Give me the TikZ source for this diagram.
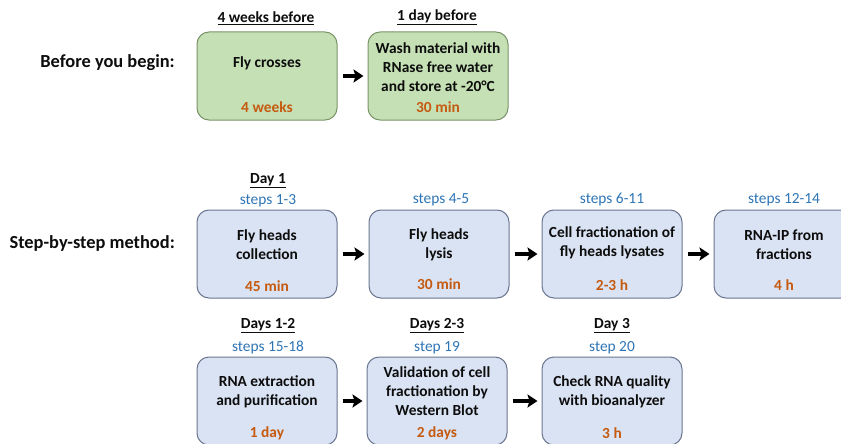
\documentclass[tikz,border=0pt]{standalone}
\usepackage{fontspec}
\setmainfont{Carlito}
\usetikzlibrary{arrows.meta}
\definecolor{gfill}{HTML}{C5E0B4}
\definecolor{gdraw}{HTML}{7A9468}
\definecolor{bfill}{HTML}{DAE3F3}
\definecolor{bdraw}{HTML}{6A7590}
\definecolor{torange}{HTML}{C55A11}
\definecolor{tblue}{HTML}{2E75B6}
\tikzset{
  x=1pt,y=-1pt,
  every node/.style={font=\fontsize{15.4}{18.8}\selectfont\bfseries, inner sep=0pt, align=center, text=black!95},
  boxbase/.style={rounded corners=12pt, line width=1pt, minimum width=140pt, minimum height=88pt},
  gbox/.style={boxbase, draw=gdraw, fill=gfill},
  bbox/.style={boxbase, draw=bdraw, fill=bfill},
  timetxt/.style={text=torange},
  steptxt/.style={text=tblue, font=\fontsize{15.4}{18.8}\selectfont},
  headtxt/.style={font=\fontsize{15.4}{18.8}\selectfont\bfseries},
  sidetxt/.style={font=\fontsize{18.4}{22}\selectfont\bfseries, anchor=east},
  arr/.style={line width=3.4pt, -{Stealth[length=10pt,width=13pt,inset=2pt]}, shorten <=5pt, shorten >=4pt}
}
\begin{document}
\begin{tikzpicture}
\clip (0,0) rectangle (841,444);
\fill[white] (0,0) rectangle (841,444);
% side labels
\node[sidetxt] (lab1) at (175,63) {Before you begin:};
\node[sidetxt] (lab2) at (175,243) {Step-by-step method:};
% green boxes
\node[gbox] (g1) at (267,76) {};
\node[gbox] (g2) at (438,76) {};
\node[headtxt] (g1h) at (266,18) {\underline{4 weeks before}};
\node[headtxt] (g2h) at (437,17) {\underline{1 day before}};
\node (g1t) at (267,63) {Fly crosses};
\node[timetxt] (g1m) at (267,107) {4 weeks};
\node (g2t) at (438,67) {Wash material with\\RNase free water\\and store at -20°C};
\node[timetxt] (g2m) at (438,107) {30 min};
\draw[arr] (g1) -- (g2);
% row 1
\node[bbox] (r1) at (267,254) {};
\node[bbox] (r2) at (439,254) {};
\node[bbox] (r3) at (612,254) {};
\node[bbox] (r4) at (784,254) {};
\node[headtxt] (r1h) at (268,181) {\underline{Day 1}};
\node[steptxt] (r1s) at (268,201) {steps 1-3};
\node[steptxt] (r2s) at (441,200) {steps 4-5};
\node[steptxt] (r3s) at (612,200) {steps 6-11};
\node[steptxt] (r4s) at (784,200) {steps 12-14};
\node (r1t) at (267,245) {Fly heads\\collection};
\node (r2t) at (439,245) {Fly heads\\lysis};
\node (r3t) at (612,243) {Cell fractionation of\\fly heads lysates};
\node (r4t) at (784,245) {RNA-IP from\\fractions};
\node[timetxt] (r1m) at (267,286) {45 min};
\node[timetxt] (r2m) at (439,284) {30 min};
\node[timetxt] (r3m) at (612,285) {2-3 h};
\node[timetxt] (r4m) at (784,285) {4 h};
\draw[arr] (r1) -- (r2);
\draw[arr] (r2) -- (r3);
\draw[arr] (r3) -- (r4);
% row 2
\node[bbox] (s1) at (267,401) {};
\node[bbox] (s2) at (437,401) {};
\node[bbox] (s3) at (612,401) {};
\node[headtxt] (s1h) at (268,326) {\underline{Days 1-2}};
\node[headtxt] (s2h) at (437,326) {\underline{Days 2-3}};
\node[headtxt] (s3h) at (612,326) {\underline{Day 3}};
\node[steptxt] (s1s) at (268,347) {steps 15-18};
\node[steptxt] (s2s) at (437,348) {step 19};
\node[steptxt] (s3s) at (612,348) {step 20};
\node (s1t) at (267,391.5) {RNA extraction\\and purification};
\node (s2t) at (437,391) {Validation of cell\\fractionation by\\Western Blot};
\node (s3t) at (612,391.5) {Check RNA quality\\with bioanalyzer};
\node[timetxt] (s1m) at (267,433) {1 day};
\node[timetxt] (s2m) at (437,433) {2 days};
\node[timetxt] (s3m) at (612,433) {3 h};
\draw[arr] (s1) -- (s2);
\draw[arr] (s2) -- (s3);
\end{tikzpicture}
\end{document}
